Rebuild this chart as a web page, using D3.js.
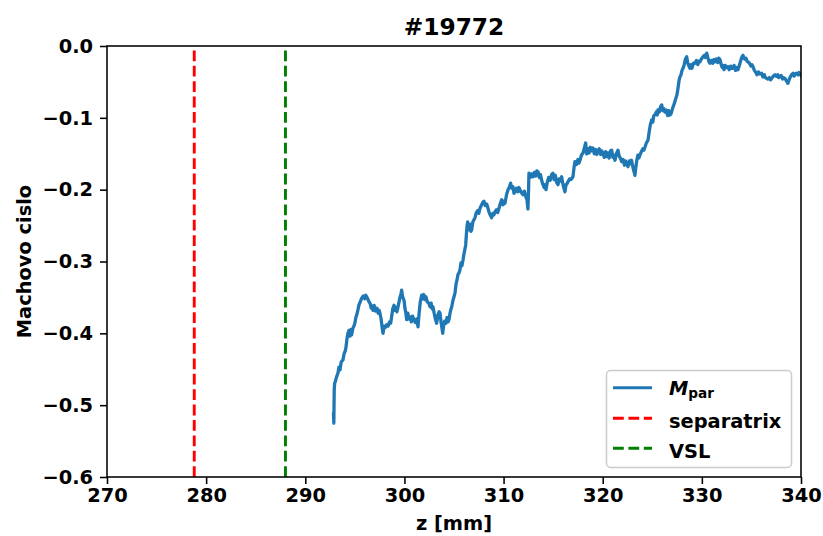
<!DOCTYPE html>
<html>
<head>
<meta charset="utf-8">
<script src="https://cdn.jsdelivr.net/npm/d3@7"></script>
<style>
  html, body { margin: 0; padding: 0; background: #fff; }
  svg text { font-family: "DejaVu Sans", sans-serif; font-weight: bold; fill: #000; }
</style>
</head>
<body>
<svg id="chart" width="823" height="536"></svg>
<script>
// Probe position along the divertor (mm)
const zPos = [
  292.85,292.88,292.90,292.92,292.96,293.05,293.17,293.30,293.40,293.50,293.62,293.80,293.92,294.02,294.10,294.20,294.30,294.40,294.50,294.58,
  294.68,294.80,294.90,295.00,295.10,295.20,295.30,295.42,295.55,295.69,295.85,296.00,296.10,296.19,296.30,296.42,296.53,296.65,296.75,296.83,
  296.95,297.08,297.23,297.35,297.45,297.53,297.65,297.75,297.84,297.95,298.05,298.21,298.35,298.50,298.61,298.72,298.82,298.95,299.05,299.15,
  299.25,299.40,299.55,299.65,299.72,299.80,299.90,299.96,300.05,300.15,300.23,300.35,300.45,300.56,300.70,300.82,300.96,301.10,301.25,301.37,
  301.48,301.60,301.74,301.85,301.95,302.05,302.17,302.30,302.45,302.58,302.70,302.80,302.88,303.00,303.12,303.25,303.38,303.50,303.59,303.70,
  303.80,303.86,303.95,304.05,304.19,304.30,304.40,304.49,304.60,304.70,304.77,304.90,305.00,305.10,305.20,305.30,305.40,305.50,305.60,305.70,
  305.80,305.91,306.00,306.10,306.18,306.25,306.32,306.38,306.45,306.51,306.60,306.70,306.78,306.90,307.00,307.12,307.25,307.40,307.50,307.62,
  307.75,307.90,308.02,308.15,308.30,308.43,308.55,308.68,308.80,308.92,309.02,309.13,309.28,309.40,309.54,309.65,309.81,309.95,310.05,310.14,
  310.30,310.45,310.60,310.71,310.82,310.95,311.05,311.15,311.30,311.45,311.55,311.65,311.80,311.96,312.10,312.25,312.36,312.46,312.52,312.56,
  312.68,312.80,312.97,313.10,313.25,313.35,313.47,313.60,313.72,313.84,313.95,314.10,314.20,314.28,314.40,314.55,314.70,314.85,314.98,315.10,
  315.22,315.35,315.49,315.60,315.72,315.86,315.95,316.05,316.19,316.30,316.40,316.50,316.65,316.80,317.00,317.10,317.20,317.35,317.50,317.60,
  317.71,317.85,318.01,318.15,318.28,318.38,318.50,318.62,318.75,318.90,319.02,319.15,319.30,319.40,319.52,319.65,319.80,319.90,320.03,320.15,
  320.30,320.40,320.53,320.65,320.78,320.90,321.03,321.10,321.24,321.38,321.54,321.65,321.78,321.91,322.05,322.20,322.30,322.41,322.55,322.68,
  322.80,322.91,323.00,323.10,323.18,323.25,323.35,323.45,323.55,323.65,323.75,323.90,324.05,324.15,324.26,324.40,324.57,324.68,324.80,324.94,
  325.05,325.15,325.27,325.40,325.50,325.57,325.70,325.82,325.95,326.05,326.15,326.28,326.40,326.55,326.65,326.79,326.90,327.00,327.09,327.20,
  327.35,327.49,327.60,327.70,327.79,327.90,328.00,328.10,328.22,328.35,328.47,328.58,328.70,328.80,328.90,329.00,329.15,329.31,329.45,329.60,
  329.70,329.81,329.95,330.11,330.25,330.35,330.49,330.60,330.72,330.82,330.95,331.10,331.20,331.32,331.45,331.60,331.70,331.83,331.95,332.05,
  332.15,332.23,332.35,332.48,332.63,332.75,332.90,333.00,333.14,333.25,333.40,333.50,333.64,333.80,333.95,334.05,334.15,334.30,334.45,334.55,
  334.65,334.80,334.95,335.05,335.16,335.30,335.45,335.56,335.70,335.85,336.03,336.15,336.30,336.40,336.53,336.65,336.80,336.94,337.05,337.20,
  337.37,337.50,337.65,337.75,337.87,338.00,338.15,338.25,338.38,338.50,338.60,338.68,338.80,338.92,339.05,339.19,339.30,339.42,339.55,339.69,
  339.80,339.90,340.00
];

// Parallel Mach number at each position
const machPar = [
  -0.512,-0.525,-0.500,-0.478,-0.470,-0.466,-0.460,-0.455,-0.447,-0.451,-0.440,-0.437,-0.428,-0.425,-0.420,-0.408,-0.400,-0.396,-0.404,-0.395,
  -0.402,-0.393,-0.390,-0.386,-0.378,-0.374,-0.368,-0.360,-0.356,-0.351,-0.348,-0.352,-0.347,-0.349,-0.352,-0.356,-0.358,-0.365,-0.362,-0.368,
  -0.361,-0.369,-0.365,-0.372,-0.368,-0.372,-0.380,-0.392,-0.400,-0.390,-0.392,-0.388,-0.390,-0.384,-0.386,-0.376,-0.366,-0.361,-0.368,-0.364,
  -0.370,-0.360,-0.350,-0.345,-0.340,-0.348,-0.352,-0.354,-0.365,-0.372,-0.381,-0.372,-0.380,-0.377,-0.384,-0.376,-0.381,-0.385,-0.380,-0.391,
  -0.372,-0.356,-0.347,-0.352,-0.346,-0.353,-0.349,-0.356,-0.358,-0.363,-0.358,-0.366,-0.363,-0.372,-0.380,-0.386,-0.374,-0.370,-0.372,-0.385,
  -0.394,-0.400,-0.390,-0.383,-0.386,-0.378,-0.384,-0.381,-0.372,-0.366,-0.363,-0.354,-0.349,-0.344,-0.332,-0.326,-0.318,-0.316,-0.312,-0.302,
  -0.306,-0.298,-0.290,-0.283,-0.277,-0.262,-0.250,-0.245,-0.256,-0.253,-0.248,-0.258,-0.256,-0.245,-0.242,-0.239,-0.232,-0.229,-0.233,-0.226,
  -0.222,-0.218,-0.216,-0.222,-0.220,-0.226,-0.232,-0.236,-0.239,-0.233,-0.235,-0.231,-0.228,-0.232,-0.226,-0.220,-0.214,-0.221,-0.216,-0.219,
  -0.207,-0.200,-0.196,-0.191,-0.198,-0.196,-0.205,-0.203,-0.198,-0.203,-0.197,-0.200,-0.204,-0.207,-0.202,-0.210,-0.214,-0.227,-0.200,-0.177,
  -0.183,-0.178,-0.182,-0.176,-0.181,-0.174,-0.175,-0.183,-0.179,-0.187,-0.192,-0.197,-0.193,-0.200,-0.190,-0.183,-0.187,-0.179,-0.177,-0.186,
  -0.180,-0.190,-0.193,-0.185,-0.188,-0.182,-0.190,-0.196,-0.203,-0.193,-0.192,-0.189,-0.185,-0.186,-0.182,-0.170,-0.161,-0.165,-0.158,-0.163,
  -0.159,-0.152,-0.149,-0.142,-0.135,-0.150,-0.143,-0.149,-0.141,-0.146,-0.142,-0.150,-0.144,-0.151,-0.148,-0.143,-0.151,-0.146,-0.149,-0.155,
  -0.147,-0.154,-0.149,-0.156,-0.146,-0.145,-0.155,-0.152,-0.159,-0.150,-0.145,-0.153,-0.156,-0.161,-0.158,-0.166,-0.160,-0.163,-0.168,-0.160,
  -0.164,-0.159,-0.166,-0.172,-0.176,-0.180,-0.168,-0.158,-0.152,-0.156,-0.152,-0.147,-0.143,-0.145,-0.141,-0.135,-0.131,-0.120,-0.110,-0.103,
  -0.106,-0.097,-0.096,-0.092,-0.096,-0.089,-0.092,-0.085,-0.082,-0.090,-0.087,-0.092,-0.089,-0.097,-0.090,-0.096,-0.094,-0.089,-0.085,-0.081,
  -0.074,-0.068,-0.058,-0.048,-0.043,-0.040,-0.034,-0.031,-0.026,-0.018,-0.015,-0.024,-0.028,-0.031,-0.026,-0.031,-0.024,-0.024,-0.020,-0.026,
  -0.021,-0.022,-0.018,-0.015,-0.013,-0.016,-0.010,-0.016,-0.022,-0.024,-0.020,-0.024,-0.019,-0.022,-0.018,-0.023,-0.017,-0.019,-0.026,-0.030,
  -0.027,-0.033,-0.027,-0.030,-0.029,-0.033,-0.028,-0.031,-0.031,-0.027,-0.034,-0.030,-0.033,-0.026,-0.019,-0.015,-0.013,-0.018,-0.017,-0.021,
  -0.022,-0.024,-0.028,-0.026,-0.029,-0.034,-0.037,-0.040,-0.036,-0.039,-0.038,-0.043,-0.040,-0.044,-0.045,-0.046,-0.044,-0.047,-0.045,-0.042,
  -0.040,-0.042,-0.040,-0.044,-0.043,-0.041,-0.046,-0.044,-0.045,-0.048,-0.050,-0.052,-0.047,-0.043,-0.040,-0.038,-0.042,-0.039,-0.038,-0.040,
  -0.037,-0.038,-0.041
];

// Vertical reference positions (mm)
const separatrixZ = 278.8;
const vslZ = 288.0;

const xTicks = [270, 280, 290, 300, 310, 320, 330, 340];
const yTicks = [0.0, -0.1, -0.2, -0.3, -0.4, -0.5, -0.6];

const titleText = "#19772";
const xLabel = "z [mm]";
const yLabel = "Machovo cislo";
const legendLabels = ["separatrix", "VSL"];

const blue = "#1f77b4";

const svg = d3.select("#chart");
const margin = { left: 107, right: 22, top: 46, bottom: 59 };
const W = 823, H = 536;
const plotW = W - margin.left - margin.right;
const plotH = H - margin.top - margin.bottom;

const x = d3.scaleLinear().domain([270, 340]).range([margin.left, margin.left + plotW]);
const y = d3.scaleLinear().domain([-0.6, 0]).range([margin.top + plotH, margin.top]);

svg.append("rect").attr("width", W).attr("height", H).attr("fill", "#fff");

// clip to axes area
svg.append("defs").append("clipPath").attr("id", "plotclip")
  .append("rect").attr("x", margin.left).attr("y", margin.top).attr("width", plotW).attr("height", plotH);

const plot = svg.append("g").attr("clip-path", "url(#plotclip)");

const dashStyle = "10.8,4.6";

plot.append("line")
  .attr("x1", x(separatrixZ)).attr("x2", x(separatrixZ))
  .attr("y1", y(-0.6)).attr("y2", y(0))
  .attr("stroke", "#ff0000").attr("stroke-width", 2.9).attr("stroke-dasharray", dashStyle);

plot.append("line")
  .attr("x1", x(vslZ)).attr("x2", x(vslZ))
  .attr("y1", y(-0.6)).attr("y2", y(0))
  .attr("stroke", "#008000").attr("stroke-width", 2.9).attr("stroke-dasharray", dashStyle);

const pts = zPos.map((z, i) => [z, machPar[i]]);
const line = d3.line().x(d => x(d[0])).y(d => y(d[1]));
plot.append("path")
  .datum(pts)
  .attr("d", line)
  .attr("fill", "none")
  .attr("stroke", blue)
  .attr("stroke-width", 3.3)
  .attr("stroke-linejoin", "round")
  .attr("stroke-linecap", "square");

// axes
const fmt = d3.format(".1f");
const xAxis = d3.axisBottom(x).tickValues(xTicks).tickSize(7).tickPadding(4.5).tickFormat(d3.format("d"));
const yAxis = d3.axisLeft(y).tickValues(yTicks).tickSize(7).tickPadding(7).tickFormat(fmt);

const gx = svg.append("g").attr("transform", `translate(0,${margin.top + plotH})`).call(xAxis);
const gy = svg.append("g").attr("transform", `translate(${margin.left},0)`).call(yAxis);

[gx, gy].forEach(g => {
  g.select(".domain").remove();
  g.selectAll(".tick line").attr("stroke", "#000").attr("stroke-width", 1.55);
  g.selectAll(".tick text").attr("font-size", 19.4).attr("font-family", "DejaVu Sans").attr("font-weight", "bold").attr("fill", "#000");
});

// frame
svg.append("rect")
  .attr("x", margin.left).attr("y", margin.top)
  .attr("width", plotW).attr("height", plotH)
  .attr("fill", "none").attr("stroke", "#000").attr("stroke-width", 1.55);

// title and axis labels
svg.append("text")
  .attr("x", margin.left + plotW / 2).attr("y", 35)
  .attr("text-anchor", "middle").attr("font-size", 23.3)
  .text(titleText);

svg.append("text")
  .attr("x", margin.left + plotW / 2).attr("y", 530)
  .attr("text-anchor", "middle").attr("font-size", 19.4)
  .text(xLabel);

svg.append("text")
  .attr("transform", `translate(31,${margin.top + plotH / 2}) rotate(-90)`)
  .attr("text-anchor", "middle").attr("font-size", 19.4)
  .text(yLabel);

// legend
const lg = svg.append("g");
lg.append("rect")
  .attr("x", 606.5).attr("y", 370.5).attr("width", 185).attr("height", 97)
  .attr("rx", 4).attr("ry", 4)
  .attr("fill", "#fff").attr("fill-opacity", 0.8)
  .attr("stroke", "#cccccc").attr("stroke-width", 1.5);

const rows = [
  { yLine: 387.7, color: blue, dash: null },
  { yLine: 418.3, color: "#ff0000", dash: dashStyle },
  { yLine: 448.3, color: "#008000", dash: dashStyle }
];
rows.forEach(r => {
  const l = lg.append("line")
    .attr("x1", 613).attr("x2", 652)
    .attr("y1", r.yLine).attr("y2", r.yLine)
    .attr("stroke", r.color).attr("stroke-width", 2.9);
  if (r.dash) l.attr("stroke-dasharray", r.dash);
});

const mt = lg.append("text").attr("x", 669).attr("y", 394.5).attr("font-size", 19.4);
mt.append("tspan").attr("font-style", "italic").text("M");
mt.append("tspan").attr("font-size", 13.6).attr("dy", 3.5).text("par");

lg.append("text").attr("x", 669).attr("y", 427.7).attr("font-size", 19.4).text(legendLabels[0]);
lg.append("text").attr("x", 669).attr("y", 457.5).attr("font-size", 19.4).text(legendLabels[1]);
</script>
</body>
</html>
